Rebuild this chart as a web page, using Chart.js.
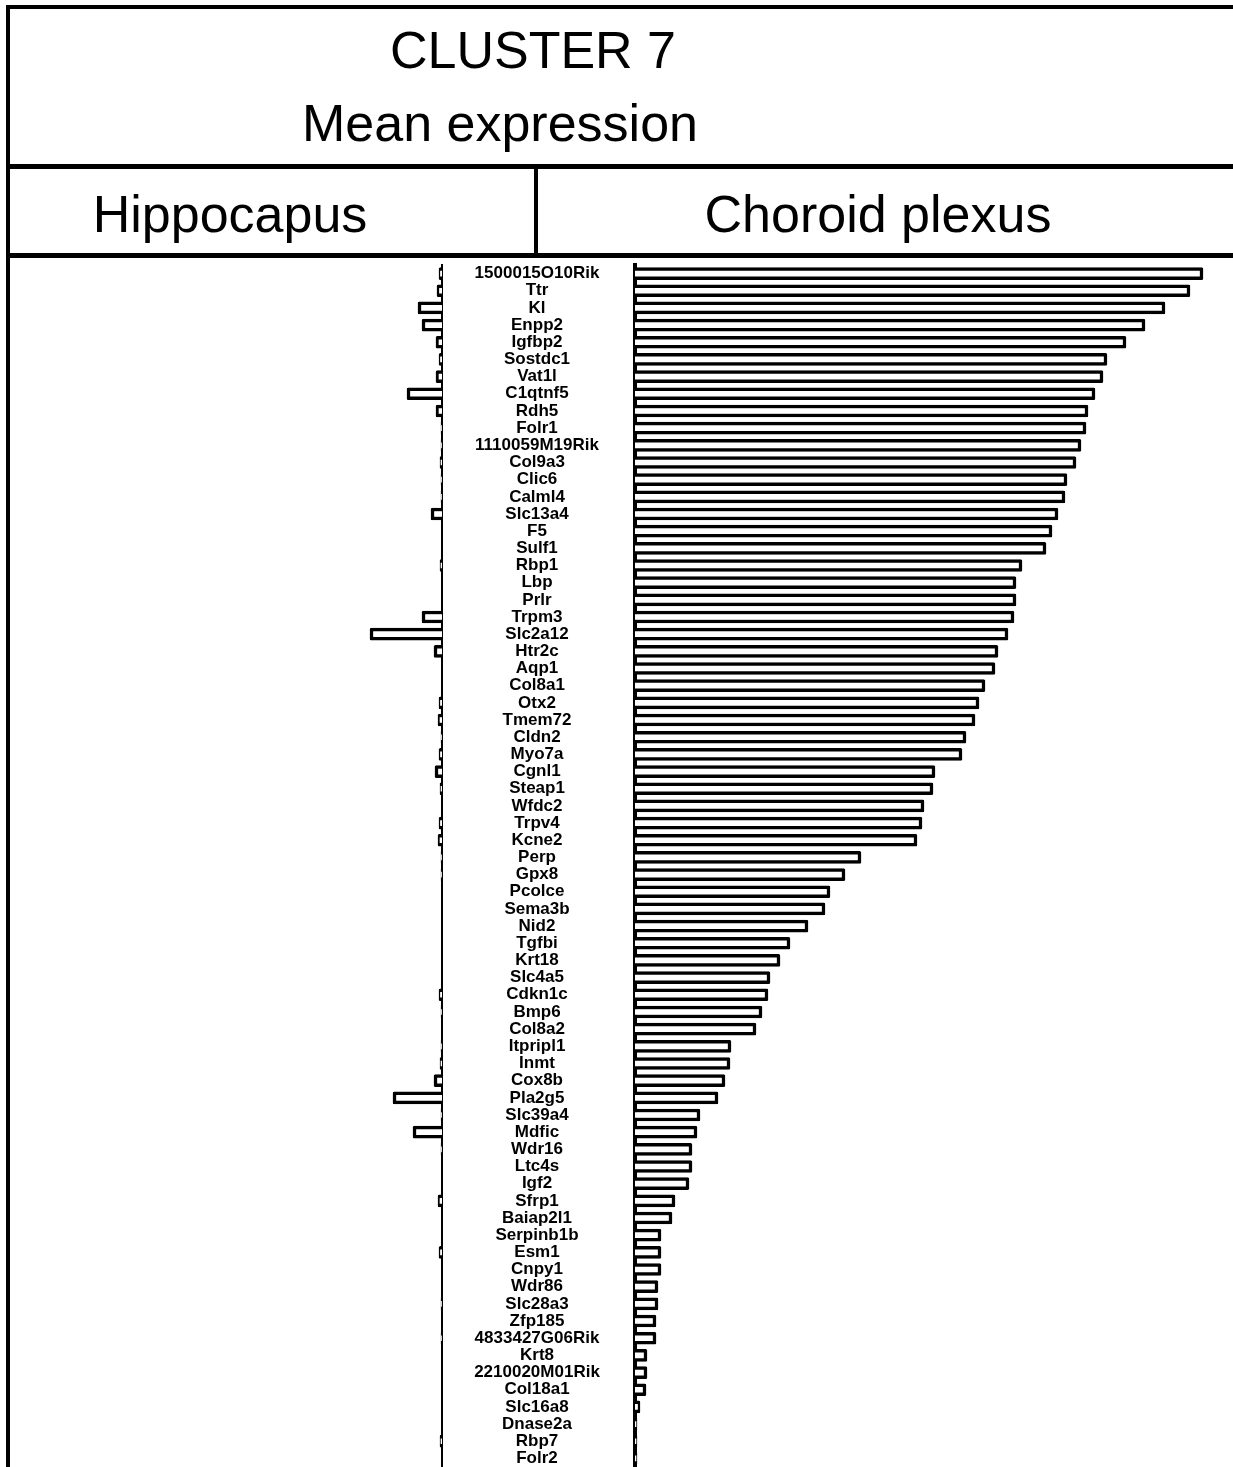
<!DOCTYPE html>
<html>
<head>
<meta charset="utf-8">
<script src="https://cdn.jsdelivr.net/npm/chart.js@4.4.1/dist/chart.umd.min.js"></script>
<style>
  body { margin: 0; background: #fff; width: 1233px; height: 1467px; overflow: hidden; position: relative; font-family: "Liberation Sans", Arial, sans-serif; }
  .ln { position: absolute; background: #000; z-index: 2; }
  .txt { position: absolute; width: 600px; text-align: center; font-size: 52px; line-height: 52px; color: #000; white-space: nowrap; }
  canvas { position: absolute; }
</style>
</head>
<body>
<!-- box lines -->
<div class="ln" style="left:6px; top:5px; width:1227px; height:4px;"></div>
<div class="ln" style="left:6px; top:5px; width:4px; height:1462px;"></div>
<div class="ln" style="left:6px; top:164px; width:1227px; height:5px;"></div>
<div class="ln" style="left:534px; top:164px; width:4px; height:92px;"></div>
<div class="ln" style="left:6px; top:253px; width:1227px; height:5px;"></div>

<div class="txt" style="left:233px; top:24px;">CLUSTER 7</div>
<div class="txt" style="left:200px; top:97px;">Mean expression</div>
<div class="txt" style="left:-70px; top:188px;">Hippocapus</div>
<div class="txt" style="left:578px; top:188px;">Choroid plexus</div>

<div style="position:absolute; left:10px; top:259px; width:433px; height:1208px;"><canvas id="hippo"></canvas></div>
<div style="position:absolute; left:443px; top:259px; width:790px; height:1208px;"><canvas id="plexus"></canvas></div>

<script>
// genes of cluster 7, top to bottom
const genes = [
  "1500015O10Rik", "Ttr", "Kl", "Enpp2", "Igfbp2", "Sostdc1", "Vat1l", "C1qtnf5", "Rdh5", "Folr1",
  "1110059M19Rik", "Col9a3", "Clic6", "Calml4", "Slc13a4", "F5", "Sulf1", "Rbp1", "Lbp", "Prlr",
  "Trpm3", "Slc2a12", "Htr2c", "Aqp1", "Col8a1", "Otx2", "Tmem72", "Cldn2", "Myo7a", "Cgnl1",
  "Steap1", "Wfdc2", "Trpv4", "Kcne2", "Perp", "Gpx8", "Pcolce", "Sema3b", "Nid2", "Tgfbi",
  "Krt18", "Slc4a5", "Cdkn1c", "Bmp6", "Col8a2", "Itpripl1", "Inmt", "Cox8b", "Pla2g5", "Slc39a4",
  "Mdfic", "Wdr16", "Ltc4s", "Igf2", "Sfrp1", "Baiap2l1", "Serpinb1b", "Esm1", "Cnpy1", "Wdr86",
  "Slc28a3", "Zfp185", "4833427G06Rik", "Krt8", "2210020M01Rik", "Col18a1", "Slc16a8", "Dnase2a", "Rbp7", "Folr2"
];

// mean expression, hippocampus (drawn to the left)
const hippocampus = [
  0.3, 0.5, 2.4, 2.0, 0.6, 0.3, 0.6, 3.5, 0.6, 0.1,
  0.1, 0.2, 0.1, 0.1, 1.1, 0, 0, 0.2, 0, 0,
  2.0, 7.2, 0.8, 0, 0, 0.3, 0.4, 0.1, 0.3, 0.7,
  0.2, 0, 0.3, 0.4, 0.1, 0.1, 0, 0, 0, 0,
  0, 0, 0.3, 0.1, 0, 0.1, 0.2, 0.8, 4.9, 0.1,
  2.9, 0.1, 0, 0, 0.4, 0, 0, 0.3, 0, 0,
  0.1, 0, 0.1, 0, 0, 0, 0, 0, 0.2, 0
];

// mean expression, choroid plexus (drawn to the right)
const choroidPlexus = [
  56.8, 55.5, 53.0, 51.0, 49.1, 47.2, 46.8, 46.0, 45.3, 45.1,
  44.6, 44.1, 43.2, 43.0, 42.3, 41.7, 41.1, 38.7, 38.1, 38.1,
  37.9, 37.3, 36.3, 36.0, 35.0, 34.4, 34.0, 33.1, 32.7, 30.0,
  29.8, 28.9, 28.7, 28.2, 22.6, 21.0, 19.5, 19.0, 17.3, 15.5,
  14.5, 13.5, 13.3, 12.7, 12.1, 9.6, 9.5, 9.0, 8.3, 6.5,
  6.2, 5.7, 5.7, 5.4, 4.0, 3.7, 2.6, 2.6, 2.6, 2.3,
  2.3, 2.1, 2.1, 1.2, 1.2, 1.1, 0.5, 0.2, 0.2, 0.2
];

const labelFont = { family: '"Liberation Sans", Arial, sans-serif', size: 17, weight: 'bold' };

const barStyle = {
  backgroundColor: '#fff',
  borderColor: '#000',
  borderWidth: 3.5,
  borderRadius: 1.5,
  barThickness: 12
};

const common = {
  indexAxis: 'y',
  responsive: true,
  maintainAspectRatio: false,
  animation: false,
  layout: { padding: { top: 6, bottom: 0, left: 0, right: 0 } },
  plugins: { legend: { display: false }, tooltip: { enabled: false } }
};

// left panel: bars grow leftwards from the axis
new Chart(document.getElementById("hippo"), {
  type: 'bar',
  data: { labels: genes, datasets: [{ data: hippocampus, ...barStyle }] },
  options: {
    ...common,
    scales: {
      x: { min: 0, max: 43.2, reverse: true, display: false },
      y: {
        position: 'right',
        ticks: { display: false },
        grid: { display: false, drawTicks: false },
        border: { display: true, color: '#000', width: 2.5 },
        afterFit: s => { s.width = 1; s.paddingTop = 0; s.paddingBottom = 0; }
      }
    }
  }
});

// labels are centred between the two axes
const ctx = document.createElement('canvas').getContext('2d');
ctx.font = `bold ${labelFont.size}px ${labelFont.family}`;
const widest = Math.max(...genes.map(g => ctx.measureText(g).width));
const labelPad = 98 - widest / 2;

new Chart(document.getElementById("plexus"), {
  type: 'bar',
  data: { labels: genes, datasets: [{ data: choroidPlexus, ...barStyle }] },
  options: {
    ...common,
    scales: {
      x: { min: 0, max: 59.8, display: false },
      y: {
        position: 'left',
        ticks: { color: '#000', font: labelFont, crossAlign: 'center', padding: labelPad, autoSkip: false },
        grid: { display: false, drawTicks: false },
        border: { display: true, color: '#000', width: 4 },
        afterFit: s => { s.width = 192; s.paddingTop = 0; s.paddingBottom = 0; }
      }
    }
  }
});
</script>
</body>
</html>
